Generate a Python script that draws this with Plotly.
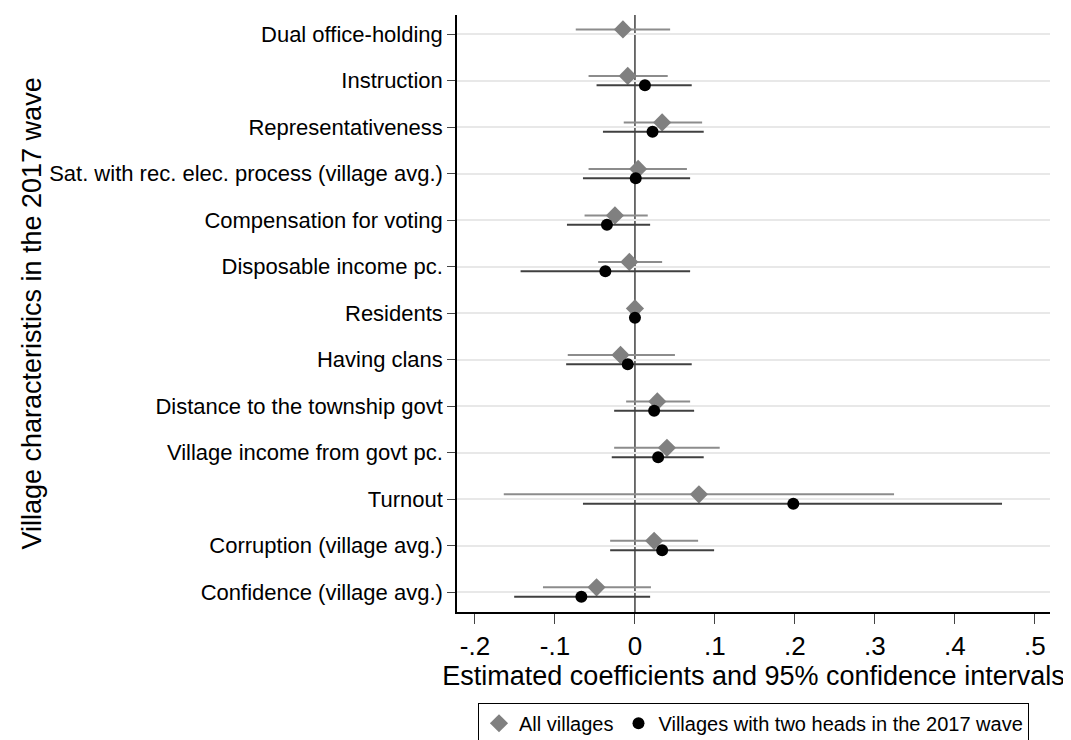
import plotly.graph_objects as go

labels = ["Dual office-holding","Instruction","Representativeness","Sat. with rec. elec. process (village avg.)",
          "Compensation for voting","Disposable income pc.","Residents","Having clans","Distance to the township govt",
          "Village income from govt pc.","Turnout","Corruption (village avg.)","Confidence (village avg.)"]
all_est = [-0.015,-0.009,0.034,0.004,-0.025,-0.007,0.0,-0.018,0.028,0.040,0.080,0.024,-0.048]
all_lo  = [-0.074,-0.058,-0.014,-0.058,-0.063,-0.046,-0.004,-0.084,-0.011,-0.026,-0.164,-0.031,-0.115]
all_hi  = [0.044,0.041,0.084,0.065,0.016,0.034,0.004,0.050,0.069,0.106,0.324,0.079,0.020]
two_labels = labels[1:]
two_est = [0.0125,0.022,0.001,-0.035,-0.037,0.0,-0.009,0.024,0.029,0.198,0.034,-0.067]
two_lo  = [-0.048,-0.040,-0.065,-0.085,-0.143,-0.006,-0.086,-0.026,-0.029,-0.065,-0.031,-0.151]
two_hi  = [0.071,0.086,0.069,0.019,0.069,0.006,0.071,0.074,0.086,0.459,0.099,0.019]
xticks = [-0.2,-0.1,0,0.1,0.2,0.3,0.4,0.5]
xticktext = ["-.2","-.1","0",".1",".2",".3",".4",".5"]

n = len(labels)
pos = {l: n-1-i for i, l in enumerate(labels)}
off = 0.1

fig = go.Figure()
fig.add_trace(go.Scatter(
    x=all_est, y=[pos[l]+off for l in labels], mode="markers", name="All villages",
    marker=dict(symbol="diamond", size=14, color="#808080"),
    error_x=dict(type="data", symmetric=False,
                 array=[h-e for h, e in zip(all_hi, all_est)],
                 arrayminus=[e-l for l, e in zip(all_lo, all_est)],
                 color="#8c8c8c", thickness=2, width=0)))
fig.add_trace(go.Scatter(
    x=two_est, y=[pos[l]-off for l in two_labels], mode="markers",
    name="Villages with two heads in the 2017 wave",
    marker=dict(symbol="circle", size=12, color="black"),
    error_x=dict(type="data", symmetric=False,
                 array=[h-e for h, e in zip(two_hi, two_est)],
                 arrayminus=[e-l for l, e in zip(two_lo, two_est)],
                 color="#404040", thickness=2, width=0)))
fig.add_vline(x=0, line=dict(color="#404040", width=1.5), layer="below")

fig.update_layout(
    width=1063, height=732, plot_bgcolor="white", paper_bgcolor="white",
    margin=dict(l=449, r=21, t=7, b=128, autoexpand=False),
    font=dict(family="Liberation Sans, Arial", color="black", size=22),
    xaxis=dict(range=[-0.2225, 0.519], tickvals=xticks, ticktext=xticktext, automargin=False,
               showgrid=False, zeroline=False, showline=True, linecolor="black", linewidth=1.5,
               ticks="outside", ticklen=10, tickfont=dict(size=26),
               title=dict(text="Estimated coefficients and 95% confidence intervals",
                          font=dict(size=27), standoff=0)),
    yaxis=dict(range=[-0.43, n-1+0.41], tickvals=[pos[l] for l in labels], ticktext=labels,
               automargin=False,
               showgrid=True, gridcolor="#e8e8e8", gridwidth=2, zeroline=False, showline=True,
               linecolor="black", linewidth=1.5, ticks="outside", ticklen=8, tickfont=dict(size=22),
               title=dict(text="Village characteristics in the 2017 wave", font=dict(size=27), standoff=0)),
    legend=dict(orientation="h", x=0.5, xanchor="center", y=-0.152, yanchor="top",
                bordercolor="black", borderwidth=1, font=dict(size=20)),
)
fig.write_html("out.html")
